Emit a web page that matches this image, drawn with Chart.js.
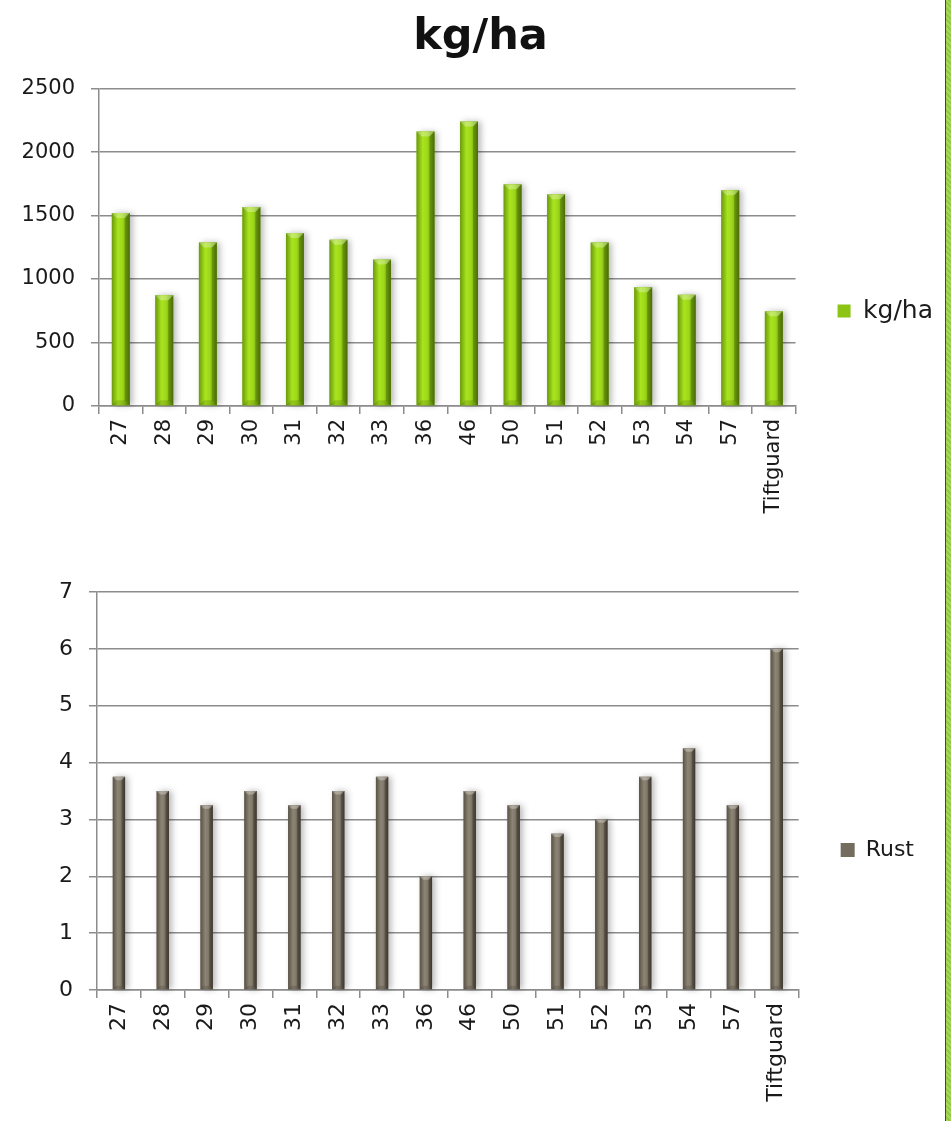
<!DOCTYPE html>
<html>
<head>
<meta charset="utf-8">
<script src="https://cdn.jsdelivr.net/npm/chart.js@4/dist/chart.umd.min.js"></script>
<style>
    body { margin: 0; background: #fff; }
    .page { position: relative; width: 951px; height: 1121px; overflow: hidden; }
    .box { position: absolute; left: 0; width: 945px; }
    #yieldBox { top: 0; height: 550px; }
    #rustBox { top: 550px; height: 571px; }
    .edge {
        position: absolute; top: 0; left: 945px; width: 6px; height: 1121px;
        border-left: 1px solid #3d4a26;
        background: repeating-linear-gradient(45deg, #a6d85a 0 2px, #93c846 2px 4px);
    }
</style>
</head>
<body>
<div class="page">
    <div class="box" id="yieldBox"><canvas id="yieldChart"></canvas></div>
    <div class="box" id="rustBox"><canvas id="rustChart"></canvas></div>
    <div class="edge"></div>
</div>
<script>
const lines = ['27', '28', '29', '30', '31', '32', '33', '36', '46', '50', '51', '52', '53', '54', '57', 'Tiftguard']
const yieldKgHa = [1520, 873, 1288, 1567, 1362, 1310, 1153, 2162, 2240, 1746, 1667, 1288, 936, 876, 1700, 746]
const rustScore = [3.75, 3.5, 3.25, 3.5, 3.25, 3.5, 3.75, 2, 3.5, 3.25, 2.75, 3, 3.75, 4.25, 3.25, 6]

const FONT = "'DejaVu Sans', Verdana, sans-serif"
const GRID = '#8c8c8c'

// paints each bar with a side-lit gradient and a small bevel on the edges
const bevelBars = {
    id: 'bevelBars',
    afterDatasetsDraw(chart, args, opts) {
        const ctx = chart.ctx
        chart.getDatasetMeta(0).data.forEach(bar => {
            const {x, y, base, width} = bar.getProps(['x', 'y', 'base', 'width'], true)
            const l = x - width / 2
            const r = x + width / 2
            const b = Math.min(5, width * 0.28)

            const g = ctx.createLinearGradient(l, 0, r, 0)
            opts.stops.forEach(([p, c]) => g.addColorStop(p, c))

            ctx.save()
            ctx.shadowColor = 'rgba(0,0,0,0.28)'
            ctx.shadowBlur = 6
            ctx.shadowOffsetX = 3
            ctx.fillStyle = g
            ctx.fillRect(l, y, width, base - y)
            ctx.restore()

            ctx.save()
            ctx.fillStyle = 'rgba(255,255,255,0.30)'
            ctx.beginPath()
            ctx.moveTo(l, y); ctx.lineTo(r, y); ctx.lineTo(r - b, y + b); ctx.lineTo(l + b, y + b)
            ctx.closePath(); ctx.fill()

            ctx.fillStyle = 'rgba(0,0,0,0.20)'
            ctx.beginPath()
            ctx.moveTo(r, y); ctx.lineTo(r, base); ctx.lineTo(r - b, base - b); ctx.lineTo(r - b, y + b)
            ctx.closePath(); ctx.fill()

            ctx.fillStyle = 'rgba(0,0,0,0.12)'
            ctx.beginPath()
            ctx.moveTo(l, base); ctx.lineTo(r, base); ctx.lineTo(r - b, base - b); ctx.lineTo(l + b, base - b)
            ctx.closePath(); ctx.fill()
            ctx.restore()
        })
    }
}

const makeChart = (canvasId, cfg) => {
    const ctx = document.getElementById(canvasId)
    return new Chart(ctx, {
        type: 'bar',
        data: {
            labels: lines,
            datasets: [{
                label: cfg.label,
                data: cfg.values,
                backgroundColor: cfg.color,
                borderWidth: 0,
                barPercentage: cfg.barPercentage,
                categoryPercentage: 1
            }]
        },
        plugins: [bevelBars],
        options: {
            responsive: true,
            maintainAspectRatio: false,
            animation: false,
            layout: { padding: cfg.padding },
            plugins: {
                bevelBars: { stops: cfg.stops },
                title: cfg.title,
                tooltip: { enabled: false },
                legend: {
                    position: 'right',
                    // blank legend title only pushes the entry down
                    title: {
                        display: cfg.legendDrop > 0,
                        text: ' ',
                        font: { size: 10 },
                        padding: { top: 0, bottom: cfg.legendDrop }
                    },
                    labels: {
                        boxWidth: cfg.legendBox,
                        boxHeight: cfg.legendBox,
                        padding: 42,
                        color: '#1a1a1a',
                        font: { family: FONT, size: cfg.legendSize }
                    }
                }
            },
            scales: {
                x: {
                    afterFit: (s) => { s.height = cfg.xHeight },
                    grid: { drawOnChartArea: false, drawTicks: true, tickLength: 8, color: GRID, lineWidth: 1.5 },
                    border: { color: GRID, width: 1.5 },
                    ticks: {
                        autoSkip: false,
                        minRotation: 90,
                        maxRotation: 90,
                        padding: 5,
                        color: '#1a1a1a',
                        font: { family: FONT, size: cfg.tickSize }
                    }
                },
                y: {
                    min: 0,
                    max: cfg.max,
                    afterFit: (s) => { s.width = cfg.yWidth },
                    grid: { color: GRID, lineWidth: 1.5, tickLength: 8 },
                    border: { color: GRID, width: 1.5 },
                    ticks: {
                        stepSize: cfg.step,
                        padding: 16,
                        color: '#1a1a1a',
                        font: { family: FONT, size: cfg.tickSize },
                        callback: (v) => String(v)
                    }
                }
            }
        }
    })
}

makeChart('yieldChart', {
    label: 'kg/ha',
    values: yieldKgHa,
    color: '#8cc414',
    stops: [[0, '#6a9a0b'], [0.35, '#aae41f'], [0.6, '#9dd819'], [1, '#5c8907']],
    barPercentage: 0.41,
    max: 2500,
    step: 500,
    tickSize: 21,
    legendSize: 25,
    legendBox: 13,
    legendDrop: 80,
    yWidth: 81,
    xHeight: 124,
    padding: { left: 18, right: 2, top: 0, bottom: 20 },
    title: {
        display: true,
        text: 'kg/ha',
        color: '#111',
        font: { family: FONT, size: 43, weight: 'bold' },
        padding: { top: 12, bottom: 25 }
    }
})

makeChart('rustChart', {
    label: 'Rust',
    values: rustScore,
    color: '#746c5e',
    stops: [[0, '#5a5246'], [0.4, '#8c8474'], [0.6, '#837b6b'], [1, '#4e463b']],
    barPercentage: 0.28,
    max: 7,
    step: 1,
    tickSize: 22,
    legendSize: 22,
    legendBox: 14,
    legendDrop: 0,
    yWidth: 97,
    xHeight: 118,
    padding: { left: 0, right: 21, top: 42, bottom: 13 },
    title: { display: false }
})
</script>
</body>
</html>
